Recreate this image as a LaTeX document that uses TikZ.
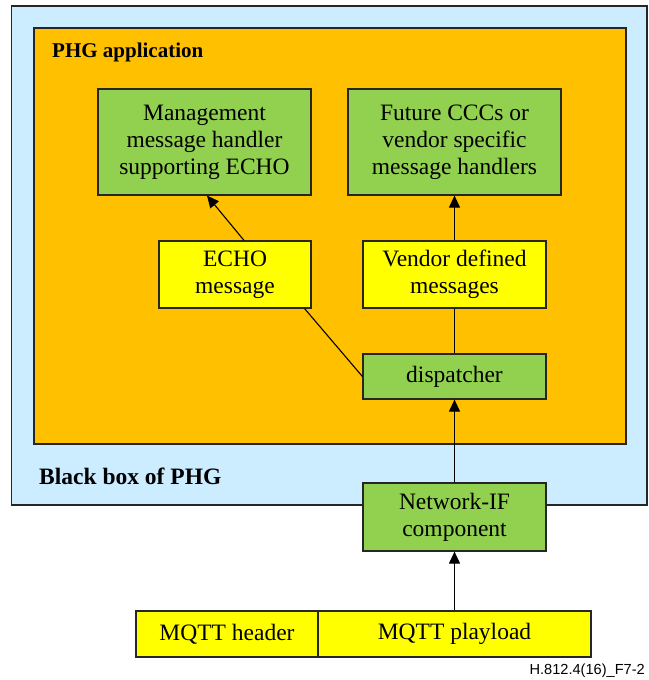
\documentclass[tikz,border=0pt]{standalone}
\usepackage{fontspec}
\setmainfont{Liberation Serif}
\newfontfamily\serifmain{Liberation Serif}
\newfontfamily\labelfont{Liberation Sans}
\usetikzlibrary{arrows.meta}
\definecolor{bluebg}{HTML}{CCECFF}
\definecolor{orangebg}{HTML}{FFC000}
\definecolor{greenbox}{HTML}{92D050}
\definecolor{yellowbox}{HTML}{FFFF00}
\definecolor{edge}{HTML}{262626}
\tikzset{
  boxbase/.style={draw=edge, line width=1.2pt, inner sep=0pt, align=center,
    font=\serifmain\fontsize{23.5}{27}\selectfont},
  greenbox/.style={boxbase, fill=greenbox},
  yellowbox/.style={boxbase, fill=yellowbox},
  conn/.style={draw=black, line width=1.1pt},
  arr/.style={conn, -{Triangle[length=12pt,width=11pt]}},
  heading/.style={font=\serifmain\fontsize{21}{24}\selectfont\bfseries, inner sep=0pt, anchor=west}
}
\begin{document}
\begin{tikzpicture}[x=1pt,y=-1pt]
\useasboundingbox (0,0) rectangle (648,680);
% outer boxes
\draw[draw=edge, line width=1.2pt, fill=bluebg] (11.5,6) rectangle (647,505);
\draw[draw=edge, line width=1.2pt, fill=orangebg] (34,28) rectangle (626,444);
\node[heading] (phgapp) at (52,52) {PHG application};
\node[heading, font=\serifmain\fontsize{23.5}{27}\selectfont\bfseries] (bbox) at (39,476) {Black box of PHG};
% nodes
\node[greenbox, minimum width=213pt, minimum height=106pt] (mgmt) at (204.5,142)
  {Management\\message handler\\supporting ECHO};
\node[greenbox, minimum width=213pt, minimum height=106pt] (future) at (454.5,142)
  {Future CCCs or\\vendor specific\\message handlers};
\node[yellowbox, minimum width=152pt, minimum height=67pt] (echo) at (235,274.5)
  {ECHO\\message};
\node[yellowbox, minimum width=183pt, minimum height=67pt] (vendor) at (454.5,274.5)
  {Vendor defined\\messages};
\node[greenbox, minimum width=183pt, minimum height=45pt] (disp) at (454.5,376.5)
  {dispatcher};
\node[greenbox, minimum width=183pt, minimum height=68pt] (netif) at (454.5,517)
  {Network-IF\\component};
\node[yellowbox, minimum width=182pt, minimum height=46pt] (mqtth) at (227,634)
  {MQTT header};
\node[yellowbox, minimum width=273pt, minimum height=46pt] (mqttp) at (454.5,634)
  {MQTT playload};
% connectors
\draw[arr] ([xshift=9pt]echo.north) -- ([xshift=2.5pt]mgmt.south);
\draw[conn] ([xshift=-7pt]echo.south east) -- (disp.west);
\draw[arr] (vendor.north) -- (future.south);
\draw[conn] (disp.north) -- (vendor.south);
\draw[arr] (netif.north) -- (disp.south);
\draw[arr] (mqttp.north) -- (netif.south);
% figure label
\node[font=\labelfont\fontsize{14.6}{16}\selectfont, anchor=east, inner sep=0pt] (figlabel) at (645,671) {H.812.4(16)\_F7-2};
\end{tikzpicture}
\end{document}
